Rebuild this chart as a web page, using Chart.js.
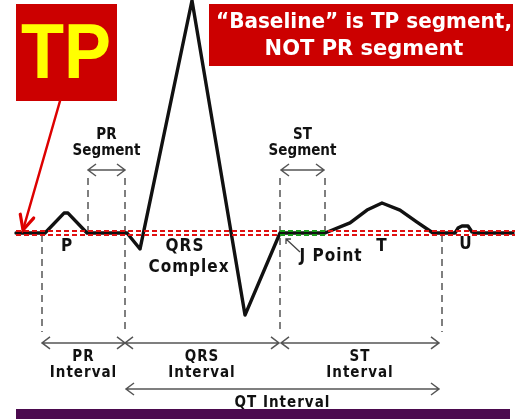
<!DOCTYPE html>
<html><head><meta charset="utf-8">
<script src="https://cdn.jsdelivr.net/npm/chart.js@4"></script>
<style>html,body{margin:0;padding:0;background:#fff;overflow:hidden}#wrap{position:relative;width:527px;height:419px}</style>
</head><body><div id="wrap"><canvas id="c"></canvas></div>
<script>
// ECG trace: time in ms (0 = P-wave onset), amplitude in mV
const ecgTime = [-52, 6, 44, 52, 90, 170, 196, 300, 406, 476, 566, 616, 650, 680, 716, 750, 782, 826, 832, 840, 852, 860, 868, 942];
const ecgAmp  = [0, 0, 0.133, 0.133, 0, 0, -0.107, 1.55, -0.547, 0, 0, 0.067, 0.153, 0.2, 0.153, 0.073, 0, 0, 0.033, 0.047, 0.047, 0.007, 0, 0];

// isoelectric baseline (TP level) and ST segment
const baselineTime = [-52, 946];
const stSegmentTime = [476, 566];

// vertical dashed markers
const markerTime   = [0, 92, 166, 476, 566, 800];
const markerTop    = [-0.013, 0.367, 0.367, 0.367, 0.367, -0.013];
const markerBottom = [-0.66, 0, -0.66, -0.66, 0, -0.66];

// segments (upper arrows) and intervals (lower arrows)
const segmentNames = [['PR','Segment'], ['ST','Segment']];
const segmentStart = [92, 478];
const segmentEnd   = [166, 564];
const intervalNames = [['PR','Interval'], ['QRS','Interval'], ['ST','Interval']];
const intervalStart = [0, 166, 478];
const intervalEnd   = [166, 474, 794];
const qtName = 'QT Interval';
const qtStart = 168, qtEnd = 794;

// wave labels
const waveNames = ['P', 'QRS', 'Complex', 'T', 'U'];
const waveTime  = [50, 286, 294, 680, 848];
const waveAmp   = [-0.093, -0.093, -0.233, -0.093, -0.08];

const jPointName = 'J Point';
const tpTitle = 'TP';
const noteLines = ['\u201CBaseline\u201D is TP segment,', 'NOT PR segment'];

const segArrowAmp = 0.42, intArrowAmp = -0.733, qtArrowAmp = -1.04;

const pts = (xs, ys) => xs.map((v, i) => ({x: v, y: Array.isArray(ys) ? ys[i] : ys}));

const datasets = [];
// ST segment (green) on top
[0.013, -0.013].forEach(o => datasets.push({data: pts(stSegmentTime, o), borderColor: '#1a9a1a', borderWidth: 2, borderDash: [5, 3]}));
// red dashed baseline
[0.013, -0.013].forEach(o => datasets.push({data: pts(baselineTime, o), borderColor: '#e01010', borderWidth: 2, borderDash: [5, 3]}));
// ECG trace
datasets.push({data: pts(ecgTime, ecgAmp), borderColor: '#111', borderWidth: 3.4, borderJoinStyle: 'round', borderCapStyle: 'round'});
// vertical markers
markerTime.forEach((t, i) => datasets.push({data: [{x: t, y: markerTop[i]}, {x: t, y: markerBottom[i]}], borderColor: '#555', borderWidth: 1.5, borderDash: [7, 5]}));
datasets.forEach(d => { d.showLine = true; d.pointRadius = 0; d.fill = false; });

const annot = {
  id: 'annot',
  afterDatasetsDraw(chart) {
    const {ctx, scales: {x, y}} = chart;
    const X = v => x.getPixelForValue(v), Y = v => y.getPixelForValue(v);
    ctx.save();
    const FONT = 'bold 15px "DejaVu Sans Condensed", "DejaVu Sans", sans-serif';
    const BIG = 'bold 17px "DejaVu Sans Condensed", "DejaVu Sans", sans-serif';
    // double arrows
    ctx.strokeStyle = '#555'; ctx.lineWidth = 1.5; ctx.setLineDash([]);
    function dbl(x1, x2, yy) {
      ctx.beginPath();
      ctx.moveTo(x1, yy); ctx.lineTo(x2, yy);
      ctx.moveTo(x1 + 8, yy - 6); ctx.lineTo(x1, yy); ctx.lineTo(x1 + 8, yy + 6);
      ctx.moveTo(x2 - 8, yy - 6); ctx.lineTo(x2, yy); ctx.lineTo(x2 - 8, yy + 6);
      ctx.stroke();
    }
    ctx.fillStyle = '#111'; ctx.font = FONT; ctx.textAlign = 'center'; ctx.textBaseline = 'middle';
    segmentStart.forEach((s, i) => {
      dbl(X(s), X(segmentEnd[i]), Y(segArrowAmp));
      const cx = X((s + segmentEnd[i]) / 2);
      ctx.fillText(segmentNames[i][0], cx, Y(segArrowAmp) - 35);
      ctx.fillText(segmentNames[i][1], cx, Y(segArrowAmp) - 19);
    });
    ctx.letterSpacing = '1px';
    intervalStart.forEach((s, i) => {
      dbl(X(s), X(intervalEnd[i]), Y(intArrowAmp));
      const cx = X((s + intervalEnd[i]) / 2);
      ctx.fillText(intervalNames[i][0], cx, Y(intArrowAmp) + 14);
      ctx.fillText(intervalNames[i][1], cx, Y(intArrowAmp) + 30);
    });
    dbl(X(qtStart), X(qtEnd), Y(qtArrowAmp));
    ctx.fillText(qtName, X((qtStart + qtEnd) / 2), Y(qtArrowAmp) + 14);
    // wave labels
    ctx.font = BIG;
    waveNames.forEach((n, i) => ctx.fillText(n, X(waveTime[i]), Y(waveAmp[i])));
    // J point pointer
    const jx = X(stSegmentTime[0]), jy = Y(0);
    ctx.fillText(jPointName, jx + 51, jy + 24);
    ctx.letterSpacing = '0px';
    ctx.beginPath(); ctx.strokeStyle = '#444'; ctx.lineWidth = 1.3;
    ctx.moveTo(jx + 6, jy + 6); ctx.lineTo(jx + 20, jy + 19);
    ctx.moveTo(jx + 6, jy + 11); ctx.lineTo(jx + 6, jy + 6); ctx.lineTo(jx + 11, jy + 6);
    ctx.stroke();
    // TP box
    ctx.fillStyle = '#cc0000';
    ctx.fillRect(16, 4, 101, 97);
    ctx.fillStyle = '#ffff00'; ctx.font = 'bold 78px "Liberation Sans", Arial, sans-serif';
    ctx.textAlign = 'center'; ctx.textBaseline = 'alphabetic';
    ctx.fillText(tpTitle, 66, 78, 90);
    // red arrow to baseline start
    const tipX = X(baselineTime[0]) + 7, tipY = Y(0) - 3;
    ctx.strokeStyle = '#dd0000'; ctx.lineWidth = 2.5; ctx.lineCap = 'round';
    ctx.beginPath(); ctx.moveTo(60, 101); ctx.lineTo(tipX, tipY); ctx.stroke();
    const ang = Math.atan2(tipY - 101, tipX - 60);
    ctx.beginPath();
    ctx.moveTo(tipX - 16 * Math.cos(ang - 0.45), tipY - 16 * Math.sin(ang - 0.45));
    ctx.lineTo(tipX, tipY);
    ctx.lineTo(tipX - 16 * Math.cos(ang + 0.45), tipY - 16 * Math.sin(ang + 0.45));
    ctx.lineWidth = 3.2; ctx.stroke();
    // note box
    ctx.fillStyle = '#cc0000';
    ctx.fillRect(209, 4, 304, 62);
    ctx.fillStyle = '#fff'; ctx.font = 'bold 21px "DejaVu Sans", sans-serif';
    ctx.textBaseline = 'middle';
    ctx.fillText(noteLines[0], 364, 23, 296);
    ctx.fillText(noteLines[1], 364, 50, 296);
    // bottom bar
    ctx.fillStyle = '#4b0a4e';
    ctx.fillRect(16, 409, 494, 10);
    ctx.restore();
  }
};

new Chart(document.getElementById('c'), {
  type: 'scatter',
  data: {datasets},
  options: {
    responsive: true, maintainAspectRatio: false, animation: false,
    layout: {padding: 0},
    plugins: {legend: {display: false}, tooltip: {enabled: false}},
    elements: {line: {tension: 0}},
    scales: {
      x: {type: 'linear', min: -84, max: 970, display: false},
      y: {type: 'linear', min: -1.24, max: 1.5533, display: false}
    }
  },
  plugins: [annot]
});
</script></body></html>
